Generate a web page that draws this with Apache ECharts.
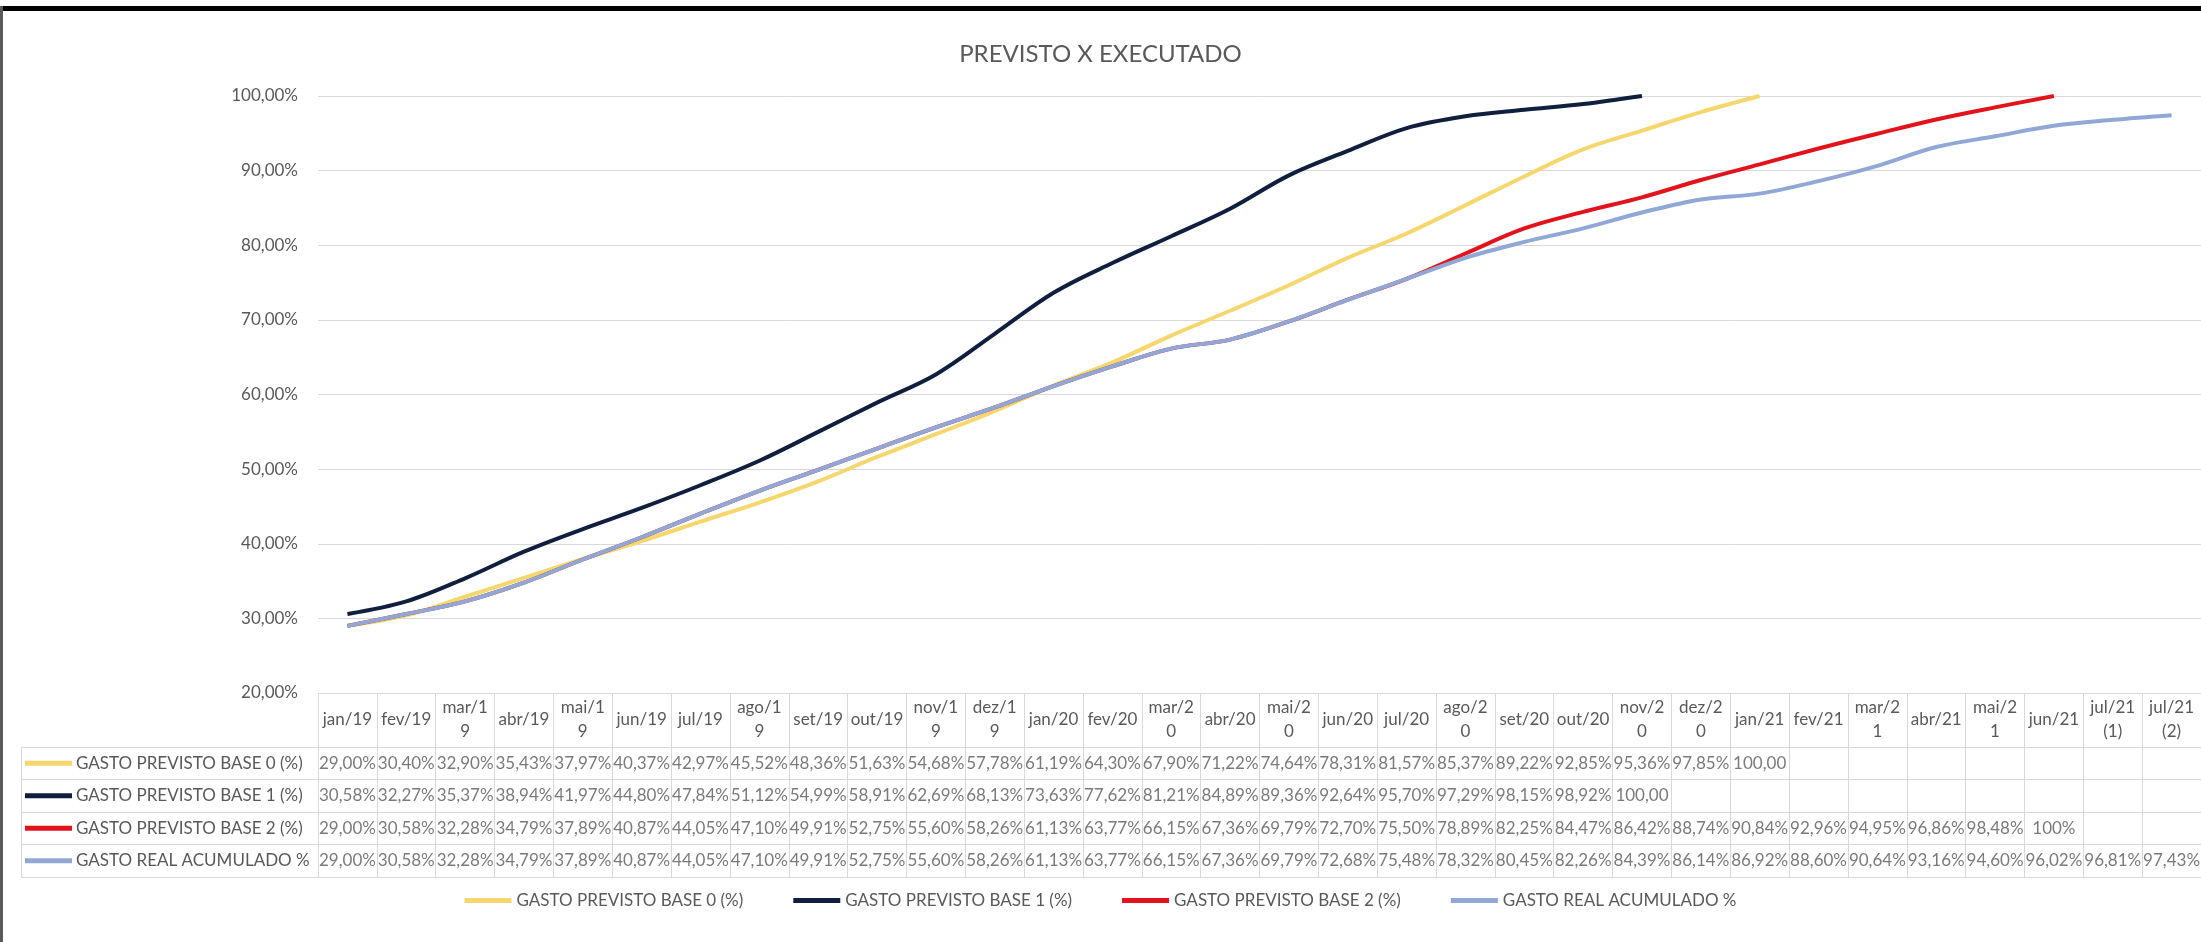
<!DOCTYPE html>
<html>
<head>
<meta charset="utf-8">
<title>Previsto x Executado</title>
<script src="https://cdn.jsdelivr.net/npm/echarts@6/dist/echarts.min.js"></script>
<style>
    html, body { margin: 0; padding: 0; background: #fff; }
    #wrap { position: relative; width: 2201px; height: 942px; overflow: hidden; }
    #main { width: 2201px; height: 942px; }
    .bordaTopo { position: absolute; left: 0; top: 6px; width: 2201px; height: 5px; background: #000; }
    .bordaEsq { position: absolute; left: 0; top: 6px; width: 3px; height: 936px; background: #5a5a5a; }
</style>
</head>
<body>
<div id="wrap">
    <div id="main"></div>
    <div class="bordaTopo"></div>
    <div class="bordaEsq"></div>
</div>
<script>
var meses = ['jan/19', 'fev/19', 'mar/19', 'abr/19', 'mai/19', 'jun/19', 'jul/19', 'ago/19', 'set/19', 'out/19', 'nov/19', 'dez/19',
    'jan/20', 'fev/20', 'mar/20', 'abr/20', 'mai/20', 'jun/20', 'jul/20', 'ago/20', 'set/20', 'out/20', 'nov/20', 'dez/20',
    'jan/21', 'fev/21', 'mar/21', 'abr/21', 'mai/21', 'jun/21', 'jul/21 (1)', 'jul/21 (2)'];

var nomes = ['GASTO PREVISTO BASE 0 (%)', 'GASTO PREVISTO BASE 1 (%)', 'GASTO PREVISTO BASE 2 (%)', 'GASTO REAL ACUMULADO %'];

var base0 = [29.00, 30.40, 32.90, 35.43, 37.97, 40.37, 42.97, 45.52, 48.36, 51.63, 54.68, 57.78,
    61.19, 64.30, 67.90, 71.22, 74.64, 78.31, 81.57, 85.37, 89.22, 92.85, 95.36, 97.85, 100.00];
var base1 = [30.58, 32.27, 35.37, 38.94, 41.97, 44.80, 47.84, 51.12, 54.99, 58.91, 62.69, 68.13,
    73.63, 77.62, 81.21, 84.89, 89.36, 92.64, 95.70, 97.29, 98.15, 98.92, 100.00];
var base2 = [29.00, 30.58, 32.28, 34.79, 37.89, 40.87, 44.05, 47.10, 49.91, 52.75, 55.60, 58.26,
    61.13, 63.77, 66.15, 67.36, 69.79, 72.70, 75.50, 78.89, 82.25, 84.47, 86.42, 88.74,
    90.84, 92.96, 94.95, 96.86, 98.48, 100];
var real = [29.00, 30.58, 32.28, 34.79, 37.89, 40.87, 44.05, 47.10, 49.91, 52.75, 55.60, 58.26,
    61.13, 63.77, 66.15, 67.36, 69.79, 72.68, 75.48, 78.32, 80.45, 82.26, 84.39, 86.14,
    86.92, 88.60, 90.64, 93.16, 94.60, 96.02, 96.81, 97.43];

var cores = ['#f5d76e', '#0f1f3d', '#e2131b', '#8fa8d6'];
var cinza = '#595959';
var borda = '#d9d9d9';
var fonte = 'Lato';

var linhas = [base0, base1, base2, real];

// meses que o Excel quebrou em duas linhas no cabecalho da tabela
var quebra = ['mar', 'mai', 'ago', 'nov', 'dez'];
function rotuloMes(v) {
    if (v.indexOf(' ') > 0) return v.replace(' ', '\n');
    if (quebra.indexOf(v.slice(0, 3)) >= 0) return v.slice(0, 5) + '\n' + v.slice(5);
    return v;
}

function pct(v) {
    return v.toFixed(2).replace('.', ',') + '%';
}

var celulas = [];
linhas.forEach(function (serie, s) {
    serie.forEach(function (v, i) {
        celulas.push([i, s, v]);
    });
});

var rich = {
    n: { fontFamily: fonte, fontSize: 17, color: cinza, padding: [0, 0, 0, 4] }
};
cores.forEach(function (c, i) {
    rich['k' + i] = { width: 47, height: 5, backgroundColor: c };
});

var series = linhas.map(function (dados, i) {
    return {
        name: nomes[i],
        type: 'line',
        xAxisIndex: 0,
        yAxisIndex: 0,
        data: dados,
        smooth: 0.35,
        symbol: 'none',
        lineStyle: { width: 4, color: cores[i] },
        itemStyle: { color: cores[i] }
    };
});

// valores da tabela de dados, uma celula por mes e serie
series.push({
    name: 'tabela',
    type: 'scatter',
    xAxisIndex: 1,
    yAxisIndex: 1,
    symbolSize: 0,
    silent: true,
    data: celulas,
    label: {
        show: true,
        position: 'inside',
        fontFamily: fonte,
        fontSize: 17,
        color: cinza,
        width: 62,
        overflow: 'truncate',
        ellipsis: '',
        formatter: function (p) {
            var v = p.data[2];
            if (p.data[1] === 2 && v === 100) return '100%';
            return pct(v);
        }
    }
});

var chart = echarts.init(document.getElementById('main'));
chart.setOption({
    backgroundColor: '#fff',
    animation: false,
    textStyle: { fontFamily: fonte },
    title: {
        text: 'PREVISTO X EXECUTADO',
        left: 'center',
        top: 37,
        textStyle: { fontFamily: fonte, fontSize: 24, fontWeight: 'normal', color: cinza }
    },
    legend: {
        data: nomes,
        top: 887,
        left: 'center',
        icon: 'rect',
        itemWidth: 47,
        itemHeight: 5,
        itemGap: 50,
        textStyle: { fontFamily: fonte, fontSize: 17, color: cinza }
    },
    grid: [
        { left: 318, right: -11, top: 96, height: 597 },
        { left: 318, right: -11, top: 747, height: 130 }
    ],
    xAxis: [
        {
            type: 'category',
            gridIndex: 0,
            data: meses,
            boundaryGap: true,
            axisLine: { show: true, lineStyle: { color: borda } },
            axisTick: { show: true, interval: 0, length: 54, lineStyle: { color: borda } },
            axisLabel: {
                interval: 0,
                margin: 27,
                verticalAlign: 'middle',
                lineHeight: 24,
                fontSize: 17,
                color: cinza,
                formatter: rotuloMes
            }
        },
        {
            type: 'category',
            gridIndex: 1,
            data: meses,
            boundaryGap: true,
            position: 'top',
            axisLine: { show: true, lineStyle: { color: borda } },
            axisTick: { show: false },
            axisLabel: { show: false },
            splitLine: { show: true, interval: 0, lineStyle: { color: borda } }
        }
    ],
    yAxis: [
        {
            type: 'value',
            gridIndex: 0,
            min: 20,
            max: 100,
            interval: 10,
            axisLine: { show: false },
            axisTick: { show: false },
            axisLabel: { margin: 20, fontSize: 17, color: cinza, formatter: pct },
            splitLine: { lineStyle: { color: borda } }
        },
        {
            type: 'category',
            gridIndex: 1,
            data: nomes,
            inverse: true,
            boundaryGap: true,
            axisLine: { show: false },
            axisTick: { show: true, interval: 0, length: 297, lineStyle: { color: borda } },
            axisLabel: {
                interval: 0,
                margin: 293,
                align: 'left',
                formatter: function (v, i) {
                    return '{k' + i + '|}{n|' + v + '}';
                },
                rich: rich
            },
            splitLine: { show: true, interval: 0, lineStyle: { color: borda } }
        },
        {
            type: 'value',
            gridIndex: 1,
            position: 'left',
            offset: 297,
            axisLine: { show: true, lineStyle: { color: borda } },
            axisTick: { show: false },
            axisLabel: { show: false },
            splitLine: { show: false }
        }
    ],
    series: series
});
</script>
</body>
</html>
